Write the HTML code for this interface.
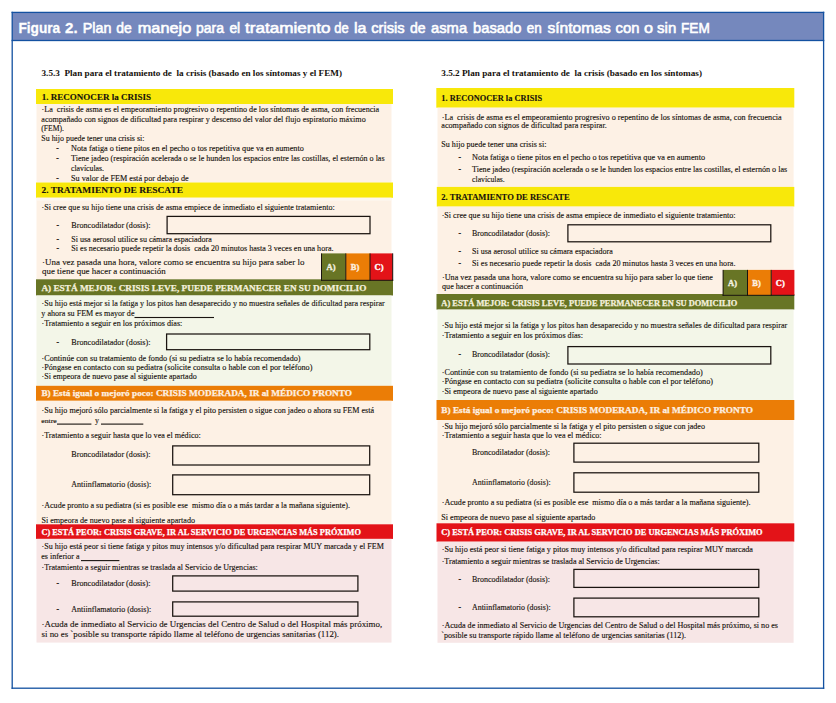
<!DOCTYPE html><html><head><meta charset="utf-8"><style>html,body{margin:0;padding:0;background:#fff;width:836px;height:703px;overflow:hidden}svg{display:block}</style></head><body>
<svg width="836" height="703" viewBox="0 0 836 703" style="font-family:'Liberation Serif',serif">
<rect x="0" y="0" width="836" height="703" fill="#ffffff"/>
<rect x="36" y="89" width="357.00" height="15.00" fill="#f8e80a"/>
<rect x="36.5" y="104" width="355.00" height="78.50" fill="#fdf1e5"/>
<rect x="36" y="182.5" width="357.00" height="15.30" fill="#f8e80a"/>
<rect x="36.5" y="197.8" width="355.00" height="81.50" fill="#fdf1e5"/>
<rect x="36.5" y="197.8" width="355.00" height="2.80" fill="#fdf7f0"/>
<rect x="36" y="279.3" width="357.00" height="16.20" fill="#687525"/>
<rect x="36.5" y="295.5" width="355.00" height="90.30" fill="#f3f6e8"/>
<rect x="36" y="385.8" width="357.00" height="15.00" fill="#eb7d06"/>
<rect x="36.5" y="400.8" width="355.00" height="123.50" fill="#fdf1e5"/>
<rect x="36" y="524.3" width="357.00" height="14.60" fill="#e31318"/>
<rect x="36.5" y="538.9" width="355.00" height="103.70" fill="#f7e6e6"/>
<rect x="321.5" y="253.4" width="24.30" height="26.90" fill="#687525"/>
<rect x="345.8" y="253.4" width="24.20" height="26.90" fill="#eb7d06"/>
<rect x="370" y="253.4" width="22.70" height="26.90" fill="#e31318"/>
<rect x="321" y="253.4" width="1.00" height="27.40" fill="#1a1410"/>
<rect x="345.3" y="253.4" width="1.00" height="27.40" fill="#1a1410"/>
<rect x="369.5" y="253.4" width="1.00" height="27.40" fill="#1a1410"/>
<rect x="392.2" y="253.4" width="1.00" height="27.40" fill="#1a1410"/>
<rect x="321" y="279.8" width="72.20" height="1.00" fill="#1a1410"/>
<rect x="436.3" y="88" width="358.00" height="19.70" fill="#f8e80a"/>
<rect x="437.5" y="107.7" width="356.10" height="79.20" fill="#fdf1e5"/>
<rect x="436.8" y="186.9" width="357.50" height="19.70" fill="#f8e80a"/>
<rect x="437.5" y="206.6" width="356.10" height="87.40" fill="#fdf1e5"/>
<rect x="436.5" y="294" width="357.80" height="15.60" fill="#687525"/>
<rect x="437.5" y="309.6" width="356.10" height="90.40" fill="#f3f6e8"/>
<rect x="436.5" y="400" width="357.80" height="20.00" fill="#eb7d06"/>
<rect x="437.5" y="420" width="356.10" height="103.30" fill="#fdf1e5"/>
<rect x="436.5" y="523.3" width="357.80" height="18.40" fill="#e31318"/>
<rect x="437.5" y="541.7" width="356.10" height="101.10" fill="#f7e6e6"/>
<rect x="723" y="269.9" width="24.50" height="25.10" fill="#687525"/>
<rect x="747.5" y="269.9" width="23.90" height="25.10" fill="#eb7d06"/>
<rect x="771.4" y="269.9" width="23.00" height="25.10" fill="#e31318"/>
<rect x="722.6" y="269.9" width="1.00" height="25.90" fill="#1a1410"/>
<rect x="747" y="269.9" width="1.00" height="25.90" fill="#1a1410"/>
<rect x="770.7" y="269.9" width="1.00" height="25.90" fill="#1a1410"/>
<rect x="722.6" y="294.8" width="71.80" height="1.00" fill="#1a1410"/>
<rect x="167.10" y="216.40" width="202.90" height="17.30" fill="none" stroke="#1a1410" stroke-width="1.25"/>
<rect x="166.60" y="334.00" width="203.20" height="15.70" fill="none" stroke="#1a1410" stroke-width="1.25"/>
<rect x="172.70" y="445.90" width="197.00" height="19.10" fill="none" stroke="#1a1410" stroke-width="1.25"/>
<rect x="172.70" y="474.90" width="197.00" height="19.80" fill="none" stroke="#1a1410" stroke-width="1.25"/>
<rect x="172.70" y="575.90" width="185.20" height="15.20" fill="none" stroke="#1a1410" stroke-width="1.25"/>
<rect x="172.70" y="601.90" width="185.20" height="14.30" fill="none" stroke="#1a1410" stroke-width="1.25"/>
<rect x="567.90" y="224.80" width="202.90" height="17.00" fill="none" stroke="#1a1410" stroke-width="1.25"/>
<rect x="567.90" y="346.60" width="202.90" height="17.40" fill="none" stroke="#1a1410" stroke-width="1.25"/>
<rect x="573.90" y="443.20" width="184.90" height="18.90" fill="none" stroke="#1a1410" stroke-width="1.25"/>
<rect x="573.90" y="472.80" width="184.90" height="19.40" fill="none" stroke="#1a1410" stroke-width="1.25"/>
<rect x="573.90" y="569.40" width="184.90" height="18.00" fill="none" stroke="#1a1410" stroke-width="1.25"/>
<rect x="573.90" y="598.10" width="184.90" height="18.70" fill="none" stroke="#1a1410" stroke-width="1.25"/>
<rect x="134.5" y="316.95" width="79.50" height="1.1" fill="#1a1410"/>
<rect x="57" y="423.55" width="34.40" height="1.1" fill="#1a1410"/>
<rect x="101" y="423.55" width="42.30" height="1.1" fill="#1a1410"/>
<rect x="81" y="560.0500000000001" width="38.40" height="1.1" fill="#1a1410"/>
<text x="41.5" y="76.4" font-size="8.8" font-weight="bold" fill="#16110c" textLength="300.50" lengthAdjust="spacingAndGlyphs" xml:space="preserve">3.5.3  Plan para el tratamiento de  la crisis (basado en los síntomas y el FEM)</text>
<text x="41.8" y="99.6" font-size="8.3" font-weight="bold" fill="#16110c" textLength="109.20" lengthAdjust="spacingAndGlyphs" stroke="#16110c" stroke-width="0.1" xml:space="preserve">1. RECONOCER la CRISIS</text>
<text x="41.5" y="112" font-size="7.43" fill="#16110c" textLength="337.70" lengthAdjust="spacingAndGlyphs" stroke="#16110c" stroke-width="0.12" xml:space="preserve">·La  crisis de asma es el empeoramiento progresivo o repentino de los síntomas de asma, con frecuencia</text>
<text x="41.3" y="121.5" font-size="7.94" fill="#16110c" textLength="324.40" lengthAdjust="spacingAndGlyphs" stroke="#16110c" stroke-width="0.12" xml:space="preserve">acompañado con signos de dificultad para respirar y descenso del valor del flujo espiratorio máximo</text>
<text x="41.3" y="131" font-size="7.57" fill="#16110c" textLength="22.70" lengthAdjust="spacingAndGlyphs" stroke="#16110c" stroke-width="0.12" xml:space="preserve">(FEM).</text>
<text x="41.3" y="140.7" font-size="7.87" fill="#16110c" textLength="103.10" lengthAdjust="spacingAndGlyphs" stroke="#16110c" stroke-width="0.12" xml:space="preserve">Su hijo puede tener una crisis si:</text>
<text x="56.3" y="150.7" font-size="7.5" font-weight="bold" fill="#16110c" stroke="#16110c" stroke-width="0.25" xml:space="preserve">-</text>
<text x="71" y="150.7" font-size="7.84" fill="#16110c" textLength="232.80" lengthAdjust="spacingAndGlyphs" stroke="#16110c" stroke-width="0.12" xml:space="preserve">Nota fatiga o tiene pitos en el pecho o tos repetitiva que va en aumento</text>
<text x="56.3" y="160.5" font-size="7.5" font-weight="bold" fill="#16110c" stroke="#16110c" stroke-width="0.25" xml:space="preserve">-</text>
<text x="71" y="160.5" font-size="7.52" fill="#16110c" textLength="313.60" lengthAdjust="spacingAndGlyphs" stroke="#16110c" stroke-width="0.12" xml:space="preserve">Tiene jadeo (respiración acelerada o se le hunden los espacios entre las costillas, el esternón o las</text>
<text x="71" y="170.6" font-size="7.37" fill="#16110c" textLength="33.00" lengthAdjust="spacingAndGlyphs" stroke="#16110c" stroke-width="0.12" xml:space="preserve">clavículas.</text>
<text x="56.3" y="180.8" font-size="7.5" font-weight="bold" fill="#16110c" stroke="#16110c" stroke-width="0.25" xml:space="preserve">-</text>
<text x="71" y="180.8" font-size="7.57" fill="#16110c" textLength="117.70" lengthAdjust="spacingAndGlyphs" stroke="#16110c" stroke-width="0.12" xml:space="preserve">Su valor de FEM está por debajo de</text>
<text x="41.5" y="192.6" font-size="8.3" font-weight="bold" fill="#16110c" textLength="141.50" lengthAdjust="spacingAndGlyphs" stroke="#16110c" stroke-width="0.1" xml:space="preserve">2. TRATAMIENTO DE RESCATE</text>
<text x="41.5" y="209.6" font-size="7.77" fill="#16110c" textLength="293.20" lengthAdjust="spacingAndGlyphs" stroke="#16110c" stroke-width="0.12" xml:space="preserve">·Si cree que su hijo tiene una crisis de asma empiece de inmediato el siguiente tratamiento:</text>
<text x="56.5" y="227.7" font-size="7.5" font-weight="bold" fill="#16110c" stroke="#16110c" stroke-width="0.25" xml:space="preserve">-</text>
<text x="71.3" y="227.7" font-size="7.81" fill="#16110c" textLength="79.20" lengthAdjust="spacingAndGlyphs" stroke="#16110c" stroke-width="0.12" xml:space="preserve">Broncodilatador (dosis):</text>
<text x="56.5" y="241.9" font-size="7.5" font-weight="bold" fill="#16110c" stroke="#16110c" stroke-width="0.25" xml:space="preserve">-</text>
<text x="71.3" y="241.9" font-size="7.21" fill="#16110c" textLength="140.50" lengthAdjust="spacingAndGlyphs" stroke="#16110c" stroke-width="0.12" xml:space="preserve">Si usa aerosol utilice su cámara espaciadora</text>
<text x="56.5" y="251.4" font-size="7.5" font-weight="bold" fill="#16110c" stroke="#16110c" stroke-width="0.25" xml:space="preserve">-</text>
<text x="71.3" y="251.4" font-size="7.78" fill="#16110c" textLength="262.20" lengthAdjust="spacingAndGlyphs" stroke="#16110c" stroke-width="0.12" xml:space="preserve">Si es necesario puede repetir la dosis  cada 20 minutos hasta 3 veces en una hora.</text>
<text x="42" y="264.8" font-size="9.22" fill="#16110c" textLength="262.40" lengthAdjust="spacingAndGlyphs" stroke="#16110c" stroke-width="0.12" xml:space="preserve">·Una vez pasada una hora, valore como se encuentra su hijo para saber lo</text>
<text x="42" y="274.4" font-size="8.96" fill="#16110c" textLength="123.60" lengthAdjust="spacingAndGlyphs" stroke="#16110c" stroke-width="0.12" xml:space="preserve">que tiene que hacer a continuación</text>
<text x="331" y="269.8" font-size="8.5" font-weight="bold" fill="#f4f1e0" text-anchor="middle" stroke="#f4f1e0" stroke-width="0.35" xml:space="preserve">A)</text>
<text x="355" y="269.8" font-size="8.5" font-weight="bold" fill="#fdf0e0" text-anchor="middle" stroke="#fdf0e0" stroke-width="0.35" xml:space="preserve">B)</text>
<text x="379" y="269.8" font-size="8.5" font-weight="bold" fill="#ffffff" text-anchor="middle" stroke="#ffffff" stroke-width="0.35" xml:space="preserve">C)</text>
<text x="41.4" y="291" font-size="8.6" font-weight="bold" fill="#f4f0dc" textLength="325.00" lengthAdjust="spacingAndGlyphs" stroke="#f4f0dc" stroke-width="0.25" xml:space="preserve">A) ESTÁ MEJOR: CRISIS LEVE, PUEDE PERMANECER EN SU DOMICILIO</text>
<text x="41.5" y="306.2" font-size="7.77" fill="#16110c" textLength="343.20" lengthAdjust="spacingAndGlyphs" stroke="#16110c" stroke-width="0.12" xml:space="preserve">·Su hijo está mejor si la fatiga y los pitos han desaparecido y no muestra señales de dificultad para respirar</text>
<text x="41.3" y="316.1" font-size="7.8" fill="#16110c" textLength="93.20" lengthAdjust="spacingAndGlyphs" stroke="#16110c" stroke-width="0.12" xml:space="preserve">y ahora su FEM es mayor de</text>
<text x="41.5" y="326" font-size="7.8" fill="#16110c" textLength="140.80" lengthAdjust="spacingAndGlyphs" stroke="#16110c" stroke-width="0.12" xml:space="preserve">·Tratamiento a seguir en los próximos días:</text>
<text x="56.5" y="344.5" font-size="7.5" font-weight="bold" fill="#16110c" stroke="#16110c" stroke-width="0.25" xml:space="preserve">-</text>
<text x="71.3" y="344.5" font-size="7.81" fill="#16110c" textLength="79.20" lengthAdjust="spacingAndGlyphs" stroke="#16110c" stroke-width="0.12" xml:space="preserve">Broncodilatador (dosis):</text>
<text x="41.5" y="360.5" font-size="7.55" fill="#16110c" textLength="259.00" lengthAdjust="spacingAndGlyphs" stroke="#16110c" stroke-width="0.12" xml:space="preserve">·Continúe con su tratamiento de fondo (si su pediatra se lo había recomendado)</text>
<text x="41.5" y="370.3" font-size="7.83" fill="#16110c" textLength="270.90" lengthAdjust="spacingAndGlyphs" stroke="#16110c" stroke-width="0.12" xml:space="preserve">·Póngase en contacto con su pediatra (solicite consulta o hable con el por teléfono)</text>
<text x="41.5" y="379.3" font-size="7.5" fill="#16110c" textLength="155.20" lengthAdjust="spacingAndGlyphs" stroke="#16110c" stroke-width="0.12" xml:space="preserve">·Si empeora de nuevo pase al siguiente apartado</text>
<text x="41.4" y="396" font-size="8.6" font-weight="bold" fill="#fdf0e2" textLength="310.60" lengthAdjust="spacingAndGlyphs" stroke="#fdf0e2" stroke-width="0.25" xml:space="preserve">B) Está igual o mejoró poco: CRISIS MODERADA, IR al MÉDICO PRONTO</text>
<text x="41.5" y="413.2" font-size="7.53" fill="#16110c" textLength="332.50" lengthAdjust="spacingAndGlyphs" stroke="#16110c" stroke-width="0.12" xml:space="preserve">·Su hijo mejoró sólo parcialmente si la fatiga y el pito persisten o sigue con jadeo o ahora su FEM está</text>
<text x="41.3" y="422.7" font-size="6.51" fill="#16110c" textLength="15.40" lengthAdjust="spacingAndGlyphs" stroke="#16110c" stroke-width="0.12" xml:space="preserve">entre</text>
<text x="95" y="422.7" font-size="7.75" fill="#16110c" textLength="4.00" lengthAdjust="spacingAndGlyphs" stroke="#16110c" stroke-width="0.12" xml:space="preserve">y</text>
<text x="41.5" y="437.7" font-size="7.53" fill="#16110c" textLength="159.30" lengthAdjust="spacingAndGlyphs" stroke="#16110c" stroke-width="0.12" xml:space="preserve">·Tratamiento a seguir hasta que lo vea el médico:</text>
<text x="71.3" y="456.8" font-size="7.81" fill="#16110c" textLength="79.20" lengthAdjust="spacingAndGlyphs" stroke="#16110c" stroke-width="0.12" xml:space="preserve">Broncodilatador (dosis):</text>
<text x="71.3" y="486.7" font-size="7.75" fill="#16110c" textLength="79.90" lengthAdjust="spacingAndGlyphs" stroke="#16110c" stroke-width="0.12" xml:space="preserve">Antiinflamatorio (dosis):</text>
<text x="41.5" y="507.7" font-size="7.79" fill="#16110c" textLength="308.50" lengthAdjust="spacingAndGlyphs" stroke="#16110c" stroke-width="0.12" xml:space="preserve">·Acude pronto a su pediatra (si es posible ese  mismo día o a más tardar a la mañana siguiente).</text>
<text x="41.4" y="522.6" font-size="7.79" fill="#16110c" textLength="153.60" lengthAdjust="spacingAndGlyphs" stroke="#16110c" stroke-width="0.12" xml:space="preserve">Si empeora de nuevo pase al siguiente apartado</text>
<text x="41.4" y="534.6" font-size="7.89" font-weight="bold" fill="#ffffff" textLength="319.50" lengthAdjust="spacingAndGlyphs" stroke="#ffffff" stroke-width="0.25" xml:space="preserve">C) ESTÁ PEOR: CRISIS GRAVE, IR AL SERVICIO DE URGENCIAS MÁS PRÓXIMO</text>
<text x="41.5" y="549.3" font-size="7.53" fill="#16110c" textLength="342.50" lengthAdjust="spacingAndGlyphs" stroke="#16110c" stroke-width="0.12" xml:space="preserve">·Su hijo está peor si tiene fatiga y pitos muy intensos y/o dificultad para respirar MUY marcada y el FEM</text>
<text x="41.3" y="558.9" font-size="7.74" fill="#16110c" textLength="38.20" lengthAdjust="spacingAndGlyphs" stroke="#16110c" stroke-width="0.12" xml:space="preserve">es inferior a</text>
<text x="41.5" y="570.2" font-size="7.75" fill="#16110c" textLength="216.30" lengthAdjust="spacingAndGlyphs" stroke="#16110c" stroke-width="0.12" xml:space="preserve">·Tratamiento a seguir mientras se traslada al Servicio de Urgencias:</text>
<text x="56.5" y="585.8" font-size="7.5" font-weight="bold" fill="#16110c" stroke="#16110c" stroke-width="0.25" xml:space="preserve">-</text>
<text x="71.3" y="585.8" font-size="7.54" fill="#16110c" textLength="79.20" lengthAdjust="spacingAndGlyphs" stroke="#16110c" stroke-width="0.12" xml:space="preserve">Broncodilatador (dosis):</text>
<text x="56.5" y="611.6" font-size="7.5" font-weight="bold" fill="#16110c" stroke="#16110c" stroke-width="0.25" xml:space="preserve">-</text>
<text x="71.3" y="611.6" font-size="7.49" fill="#16110c" textLength="79.90" lengthAdjust="spacingAndGlyphs" stroke="#16110c" stroke-width="0.12" xml:space="preserve">Antiinflamatorio (dosis):</text>
<text x="41.5" y="627.4" font-size="9.21" fill="#16110c" textLength="340.70" lengthAdjust="spacingAndGlyphs" stroke="#16110c" stroke-width="0.12" xml:space="preserve">·Acuda de inmediato al Servicio de Urgencias del Centro de Salud o del Hospital más próximo,</text>
<text x="41.5" y="637.2" font-size="8.93" fill="#16110c" textLength="297.50" lengthAdjust="spacingAndGlyphs" stroke="#16110c" stroke-width="0.12" xml:space="preserve">si no es `posible su transporte rápido llame al teléfono de urgencias sanitarias (112).</text>
<text x="441.3" y="75.5" font-size="8.8" font-weight="bold" fill="#16110c" textLength="260.70" lengthAdjust="spacingAndGlyphs" xml:space="preserve">3.5.2 Plan para el tratamiento de  la crisis (basado en los síntomas)</text>
<text x="441.3" y="100.6" font-size="7.5" font-weight="bold" fill="#16110c" textLength="100.90" lengthAdjust="spacingAndGlyphs" stroke="#16110c" stroke-width="0.1" xml:space="preserve">1. RECONOCER la CRISIS</text>
<text x="441.7" y="120" font-size="7.29" fill="#16110c" textLength="340.00" lengthAdjust="spacingAndGlyphs" stroke="#16110c" stroke-width="0.12" xml:space="preserve">·La  crisis de asma es el empeoramiento progresivo o repentino de los síntomas de asma, con frecuencia</text>
<text x="441.3" y="128" font-size="7.82" fill="#16110c" textLength="165.50" lengthAdjust="spacingAndGlyphs" stroke="#16110c" stroke-width="0.12" xml:space="preserve">acompañado con signos de dificultad para respirar.</text>
<text x="441.3" y="146.5" font-size="7.25" fill="#16110c" textLength="105.20" lengthAdjust="spacingAndGlyphs" stroke="#16110c" stroke-width="0.12" xml:space="preserve">Su hijo puede tener una crisis si:</text>
<text x="458.5" y="159.7" font-size="7.5" font-weight="bold" fill="#16110c" stroke="#16110c" stroke-width="0.25" xml:space="preserve">-</text>
<text x="472.1" y="159.7" font-size="7.31" fill="#16110c" textLength="233.00" lengthAdjust="spacingAndGlyphs" stroke="#16110c" stroke-width="0.12" xml:space="preserve">Nota fatiga o tiene pitos en el pecho o tos repetitiva que va en aumento</text>
<text x="458.5" y="171.5" font-size="7.5" font-weight="bold" fill="#16110c" stroke="#16110c" stroke-width="0.25" xml:space="preserve">-</text>
<text x="472.1" y="171.5" font-size="7.26" fill="#16110c" textLength="315.10" lengthAdjust="spacingAndGlyphs" stroke="#16110c" stroke-width="0.12" xml:space="preserve">Tiene jadeo (respiración acelerada o se le hunden los espacios entre las costillas, el esternón o las</text>
<text x="472.1" y="181.9" font-size="7.6" fill="#16110c" textLength="32.70" lengthAdjust="spacingAndGlyphs" stroke="#16110c" stroke-width="0.12" xml:space="preserve">clavículas.</text>
<text x="441.3" y="199.6" font-size="7.6" font-weight="bold" fill="#16110c" textLength="128.40" lengthAdjust="spacingAndGlyphs" stroke="#16110c" stroke-width="0.1" xml:space="preserve">2. TRATAMIENTO DE RESCATE</text>
<text x="441.7" y="217.7" font-size="7.24" fill="#16110c" textLength="293.80" lengthAdjust="spacingAndGlyphs" stroke="#16110c" stroke-width="0.12" xml:space="preserve">·Si cree que su hijo tiene una crisis de asma empiece de inmediato el siguiente tratamiento:</text>
<text x="458.5" y="235.7" font-size="7.5" font-weight="bold" fill="#16110c" stroke="#16110c" stroke-width="0.25" xml:space="preserve">-</text>
<text x="472" y="235.7" font-size="7.21" fill="#16110c" textLength="77.90" lengthAdjust="spacingAndGlyphs" stroke="#16110c" stroke-width="0.12" xml:space="preserve">Broncodilatador (dosis):</text>
<text x="458.5" y="253.6" font-size="7.5" font-weight="bold" fill="#16110c" stroke="#16110c" stroke-width="0.25" xml:space="preserve">-</text>
<text x="472" y="253.6" font-size="7.76" fill="#16110c" textLength="140.80" lengthAdjust="spacingAndGlyphs" stroke="#16110c" stroke-width="0.12" xml:space="preserve">Si usa aerosol utilice su cámara espaciadora</text>
<text x="458.5" y="265.6" font-size="7.5" font-weight="bold" fill="#16110c" stroke="#16110c" stroke-width="0.25" xml:space="preserve">-</text>
<text x="472" y="265.6" font-size="7.8" fill="#16110c" textLength="263.50" lengthAdjust="spacingAndGlyphs" stroke="#16110c" stroke-width="0.12" xml:space="preserve">Si es necesario puede repetir la dosis  cada 20 minutos hasta 3 veces en una hora.</text>
<text x="442" y="279.6" font-size="7.28" fill="#16110c" textLength="271.00" lengthAdjust="spacingAndGlyphs" stroke="#16110c" stroke-width="0.12" xml:space="preserve">·Una vez pasada una hora, valore como se encuentra su hijo para saber lo que tiene</text>
<text x="442" y="289.4" font-size="7.81" fill="#16110c" textLength="81.00" lengthAdjust="spacingAndGlyphs" stroke="#16110c" stroke-width="0.12" xml:space="preserve">que hacer a continuación</text>
<text x="732.6" y="285.6" font-size="8.5" font-weight="bold" fill="#f4f1e0" text-anchor="middle" stroke="#f4f1e0" stroke-width="0.35" xml:space="preserve">A)</text>
<text x="756.5" y="285.6" font-size="8.5" font-weight="bold" fill="#fdf0e0" text-anchor="middle" stroke="#fdf0e0" stroke-width="0.35" xml:space="preserve">B)</text>
<text x="780.3" y="285.6" font-size="8.5" font-weight="bold" fill="#ffffff" text-anchor="middle" stroke="#ffffff" stroke-width="0.35" xml:space="preserve">C)</text>
<text x="441.3" y="306.3" font-size="7.3" font-weight="bold" fill="#f4f0dc" textLength="296.10" lengthAdjust="spacingAndGlyphs" stroke="#f4f0dc" stroke-width="0.25" xml:space="preserve">A) ESTÁ MEJOR: CRISIS LEVE, PUEDE PERMANECER EN SU DOMICILIO</text>
<text x="441.7" y="328.2" font-size="7.53" fill="#16110c" textLength="345.50" lengthAdjust="spacingAndGlyphs" stroke="#16110c" stroke-width="0.12" xml:space="preserve">·Su hijo está mejor si la fatiga y los pitos han desaparecido y no muestra señales de dificultad para respirar</text>
<text x="441.7" y="337.8" font-size="7.28" fill="#16110c" textLength="141.30" lengthAdjust="spacingAndGlyphs" stroke="#16110c" stroke-width="0.12" xml:space="preserve">·Tratamiento a seguir en los próximos días:</text>
<text x="458.5" y="357.4" font-size="7.5" font-weight="bold" fill="#16110c" stroke="#16110c" stroke-width="0.25" xml:space="preserve">-</text>
<text x="472" y="357.4" font-size="7.21" fill="#16110c" textLength="77.90" lengthAdjust="spacingAndGlyphs" stroke="#16110c" stroke-width="0.12" xml:space="preserve">Broncodilatador (dosis):</text>
<text x="441.7" y="375.4" font-size="7.85" fill="#16110c" textLength="261.10" lengthAdjust="spacingAndGlyphs" stroke="#16110c" stroke-width="0.12" xml:space="preserve">·Continúe con su tratamiento de fondo (si su pediatra se lo había recomendado)</text>
<text x="441.7" y="384.2" font-size="7.3" fill="#16110c" textLength="271.30" lengthAdjust="spacingAndGlyphs" stroke="#16110c" stroke-width="0.12" xml:space="preserve">·Póngase en contacto con su pediatra (solicite consulta o hable con el por teléfono)</text>
<text x="441.7" y="394.4" font-size="7.79" fill="#16110c" textLength="156.00" lengthAdjust="spacingAndGlyphs" stroke="#16110c" stroke-width="0.12" xml:space="preserve">·Si empeora de nuevo pase al siguiente apartado</text>
<text x="441.3" y="413.4" font-size="8.4" font-weight="bold" fill="#fdf0e2" textLength="311.70" lengthAdjust="spacingAndGlyphs" stroke="#fdf0e2" stroke-width="0.25" xml:space="preserve">B) Está igual o mejoró poco: CRISIS MODERADA, IR al MÉDICO PRONTO</text>
<text x="441.7" y="428.7" font-size="7.25" fill="#16110c" textLength="263.30" lengthAdjust="spacingAndGlyphs" stroke="#16110c" stroke-width="0.12" xml:space="preserve">·Su hijo mejoró sólo parcialmente si la fatiga y el pito persisten o sigue con jadeo</text>
<text x="441.7" y="438.3" font-size="7.81" fill="#16110c" textLength="159.90" lengthAdjust="spacingAndGlyphs" stroke="#16110c" stroke-width="0.12" xml:space="preserve">·Tratamiento a seguir hasta que lo vea el médico:</text>
<text x="472" y="454.5" font-size="7.21" fill="#16110c" textLength="77.90" lengthAdjust="spacingAndGlyphs" stroke="#16110c" stroke-width="0.12" xml:space="preserve">Broncodilatador (dosis):</text>
<text x="472" y="485" font-size="7.69" fill="#16110c" textLength="78.60" lengthAdjust="spacingAndGlyphs" stroke="#16110c" stroke-width="0.12" xml:space="preserve">Antiinflamatorio (dosis):</text>
<text x="441.7" y="504.8" font-size="7.25" fill="#16110c" textLength="308.90" lengthAdjust="spacingAndGlyphs" stroke="#16110c" stroke-width="0.12" xml:space="preserve">·Acude pronto a su pediatra (si es posible ese  mismo día o a más tardar a la mañana siguiente).</text>
<text x="441.3" y="519.6" font-size="7.26" fill="#16110c" textLength="154.00" lengthAdjust="spacingAndGlyphs" stroke="#16110c" stroke-width="0.12" xml:space="preserve">Si empeora de nuevo pase al siguiente apartado</text>
<text x="441.3" y="535" font-size="7.5" font-weight="bold" fill="#ffffff" textLength="321.30" lengthAdjust="spacingAndGlyphs" stroke="#ffffff" stroke-width="0.25" xml:space="preserve">C) ESTÁ PEOR: CRISIS GRAVE, IR AL SERVICIO DE URGENCIAS MÁS PRÓXIMO</text>
<text x="441.7" y="552.1" font-size="7.28" fill="#16110c" textLength="311.30" lengthAdjust="spacingAndGlyphs" stroke="#16110c" stroke-width="0.12" xml:space="preserve">·Su hijo está peor si tiene fatiga y pitos muy intensos y/o dificultad para respirar MUY marcada</text>
<text x="441.7" y="563.6" font-size="7.24" fill="#16110c" textLength="218.00" lengthAdjust="spacingAndGlyphs" stroke="#16110c" stroke-width="0.12" xml:space="preserve">·Tratamiento a seguir mientras se traslada al Servicio de Urgencias:</text>
<text x="458.5" y="581.5" font-size="7.5" font-weight="bold" fill="#16110c" stroke="#16110c" stroke-width="0.25" xml:space="preserve">-</text>
<text x="472" y="581.5" font-size="7.74" fill="#16110c" textLength="77.90" lengthAdjust="spacingAndGlyphs" stroke="#16110c" stroke-width="0.12" xml:space="preserve">Broncodilatador (dosis):</text>
<text x="458.5" y="609.5" font-size="7.5" font-weight="bold" fill="#16110c" stroke="#16110c" stroke-width="0.25" xml:space="preserve">-</text>
<text x="472" y="609.5" font-size="7.16" fill="#16110c" textLength="78.60" lengthAdjust="spacingAndGlyphs" stroke="#16110c" stroke-width="0.12" xml:space="preserve">Antiinflamatorio (dosis):</text>
<text x="441.7" y="628.3" font-size="7.26" fill="#16110c" textLength="336.30" lengthAdjust="spacingAndGlyphs" stroke="#16110c" stroke-width="0.12" xml:space="preserve">·Acuda de inmediato al Servicio de Urgencias del Centro de Salud o del Hospital más próximo, si no es</text>
<text x="441.3" y="638.2" font-size="7.78" fill="#16110c" textLength="244.70" lengthAdjust="spacingAndGlyphs" stroke="#16110c" stroke-width="0.12" xml:space="preserve">`posible su transporte rápido llame al teléfono de urgencias sanitarias (112).</text>
<rect x="12.2" y="12.4" width="811.4" height="28.1" fill="#7588bd"/>
<text x="18.4" y="32.7" font-family="Liberation Sans" font-weight="bold" font-size="15.5" fill="#fff" stroke="#fff" stroke-width="0.3" textLength="41.8" lengthAdjust="spacingAndGlyphs">Figura</text>
<text x="65" y="32.7" font-family="Liberation Sans" font-weight="bold" font-size="15.5" fill="#fff" stroke="#fff" stroke-width="0.3" textLength="12.6" lengthAdjust="spacingAndGlyphs">2.</text>
<text x="82.8" y="32.7" font-family="Liberation Sans" font-size="15.5" fill="#fff" stroke="#fff" stroke-width="0.6" textLength="28.7" lengthAdjust="spacingAndGlyphs">Plan</text>
<text x="116.3" y="32.7" font-family="Liberation Sans" font-size="15.5" fill="#fff" stroke="#fff" stroke-width="0.6" textLength="15.5" lengthAdjust="spacingAndGlyphs">de</text>
<text x="137.8" y="32.7" font-family="Liberation Sans" font-size="15.5" fill="#fff" stroke="#fff" stroke-width="0.6" textLength="53.4" lengthAdjust="spacingAndGlyphs">manejo</text>
<text x="196" y="32.7" font-family="Liberation Sans" font-size="15.5" fill="#fff" stroke="#fff" stroke-width="0.6" textLength="28.0" lengthAdjust="spacingAndGlyphs">para</text>
<text x="229.4" y="32.7" font-family="Liberation Sans" font-size="15.5" fill="#fff" stroke="#fff" stroke-width="0.6" textLength="10.8" lengthAdjust="spacingAndGlyphs">el</text>
<text x="245" y="32.7" font-family="Liberation Sans" font-size="15.5" fill="#fff" stroke="#fff" stroke-width="0.6" textLength="85.6" lengthAdjust="spacingAndGlyphs">tratamiento</text>
<text x="334.2" y="32.7" font-family="Liberation Sans" font-size="15.5" fill="#fff" stroke="#fff" stroke-width="0.6" textLength="14.4" lengthAdjust="spacingAndGlyphs">de</text>
<text x="354" y="32.7" font-family="Liberation Sans" font-size="15.5" fill="#fff" stroke="#fff" stroke-width="0.6" textLength="12.5" lengthAdjust="spacingAndGlyphs">la</text>
<text x="371.2" y="32.7" font-family="Liberation Sans" font-size="15.5" fill="#fff" stroke="#fff" stroke-width="0.6" textLength="33.5" lengthAdjust="spacingAndGlyphs">crisis</text>
<text x="410" y="32.7" font-family="Liberation Sans" font-size="15.5" fill="#fff" stroke="#fff" stroke-width="0.6" textLength="15.6" lengthAdjust="spacingAndGlyphs">de</text>
<text x="431" y="32.7" font-family="Liberation Sans" font-size="15.5" fill="#fff" stroke="#fff" stroke-width="0.6" textLength="36.1" lengthAdjust="spacingAndGlyphs">asma</text>
<text x="473" y="32.7" font-family="Liberation Sans" font-size="15.5" fill="#fff" stroke="#fff" stroke-width="0.6" textLength="48.4" lengthAdjust="spacingAndGlyphs">basado</text>
<text x="526.8" y="32.7" font-family="Liberation Sans" font-size="15.5" fill="#fff" stroke="#fff" stroke-width="0.6" textLength="15.0" lengthAdjust="spacingAndGlyphs">en</text>
<text x="547.4" y="32.7" font-family="Liberation Sans" font-size="15.5" fill="#fff" stroke="#fff" stroke-width="0.6" textLength="63.4" lengthAdjust="spacingAndGlyphs">síntomas</text>
<text x="615.6" y="32.7" font-family="Liberation Sans" font-size="15.5" fill="#fff" stroke="#fff" stroke-width="0.6" textLength="23.9" lengthAdjust="spacingAndGlyphs">con</text>
<text x="644" y="32.7" font-family="Liberation Sans" font-size="15.5" fill="#fff" stroke="#fff" stroke-width="0.6" textLength="9.0" lengthAdjust="spacingAndGlyphs">o</text>
<text x="657.1" y="32.7" font-family="Liberation Sans" font-size="15.5" fill="#fff" stroke="#fff" stroke-width="0.6" textLength="19.2" lengthAdjust="spacingAndGlyphs">sin</text>
<text x="681" y="32.7" font-family="Liberation Sans" font-size="15.5" fill="#fff" stroke="#fff" stroke-width="0.6" textLength="28.8" lengthAdjust="spacingAndGlyphs">FEM</text>
<rect x="11.549999999999999" y="11.75" width="812.6999999999999" height="1.3" fill="#1351a1"/>
<rect x="11.549999999999999" y="39.85" width="812.6999999999999" height="1.3" fill="#1351a1"/>
<rect x="11.549999999999999" y="687.5500000000001" width="812.6999999999999" height="1.3" fill="#1351a1"/>
<rect x="11.549999999999999" y="11.75" width="1.3" height="677.0999999999999" fill="#1351a1"/>
<rect x="822.95" y="11.75" width="1.3" height="677.0999999999999" fill="#1351a1"/>
</svg></body></html>
